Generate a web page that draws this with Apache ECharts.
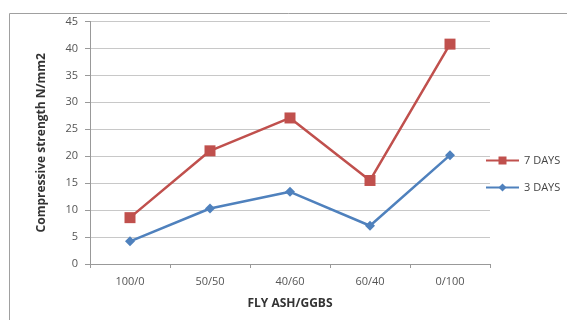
<!DOCTYPE html>
<html>
<head>
<meta charset="utf-8">
<script src="https://cdn.jsdelivr.net/npm/echarts@6/dist/echarts.min.js"></script>
<style>
html,body{margin:0;padding:0;background:#fff;}
#main{width:567px;height:320px;}
</style>
</head>
<body>
<div id="main"></div>
<script>
var categories = ['100/0', '50/50', '40/60', '60/40', '0/100'];
var days7 = [8.6, 21, 27.1, 15.5, 40.8];
var days3 = [4.2, 10.3, 13.4, 7.1, 20.2];
var yTicks = [0, 5, 10, 15, 20, 25, 30, 35, 40, 45];

var myChart = echarts.init(document.getElementById('main'));
var font = '"Open Sans", "Liberation Sans", sans-serif';
option = {
    animation: false,
    graphic: [{
        type: 'rect',
        shape: {x: 9.5, y: 13.5, width: 600, height: 400},
        style: {fill: 'none', stroke: '#a0a0a0', lineWidth: 1}
    }],
    grid: {left: 90, right: 77, top: 21.5, bottom: 56},
    legend: {
        orient: 'vertical',
        left: 480,
        top: 150,
        itemWidth: 33,
        itemHeight: 10,
        itemGap: 16,
        textStyle: {fontFamily: font, fontSize: 11, color: '#444'},
        data: ['7 DAYS', '3 DAYS']
    },
    xAxis: {
        type: 'category',
        data: categories,
        boundaryGap: true,
        name: 'FLY ASH/GGBS',
        nameLocation: 'middle',
        nameGap: 34,
        nameTextStyle: {fontFamily: font, fontSize: 12, fontWeight: 'bold', color: '#333'},
        axisLine: {lineStyle: {color: '#999'}},
        axisTick: {show: true, length: 4, lineStyle: {color: '#999'}},
        axisLabel: {fontFamily: font, fontSize: 11, color: '#555', margin: 12}
    },
    yAxis: {
        type: 'value',
        min: 0,
        max: 45,
        interval: 5,
        name: 'Compressive strength N/mm2',
        nameLocation: 'middle',
        nameGap: 42,
        nameTextStyle: {fontFamily: font, fontSize: 12, fontWeight: 'bold', color: '#333'},
        axisLine: {show: true, lineStyle: {color: '#999'}},
        axisTick: {show: true, length: 5, lineStyle: {color: '#999'}},
        axisLabel: {fontFamily: font, fontSize: 11, color: '#555', margin: 12,
            formatter: function (v) { return yTicks.indexOf(v) >= 0 ? String(v) : ''; }},
        splitLine: {lineStyle: {color: '#c8c8c8'}}
    },
    series: [
        {
            name: '7 DAYS', type: 'line', data: days7,
            symbol: 'rect', symbolSize: 11,
            lineStyle: {color: '#c0504d', width: 2.5},
            itemStyle: {color: '#c0504d'}
        },
        {
            name: '3 DAYS', type: 'line', data: days3,
            symbol: 'diamond', symbolSize: 10,
            lineStyle: {color: '#4f81bd', width: 2.5},
            itemStyle: {color: '#4f81bd'}
        }
    ]
};

myChart.setOption(option);
</script>
</body>
</html>
